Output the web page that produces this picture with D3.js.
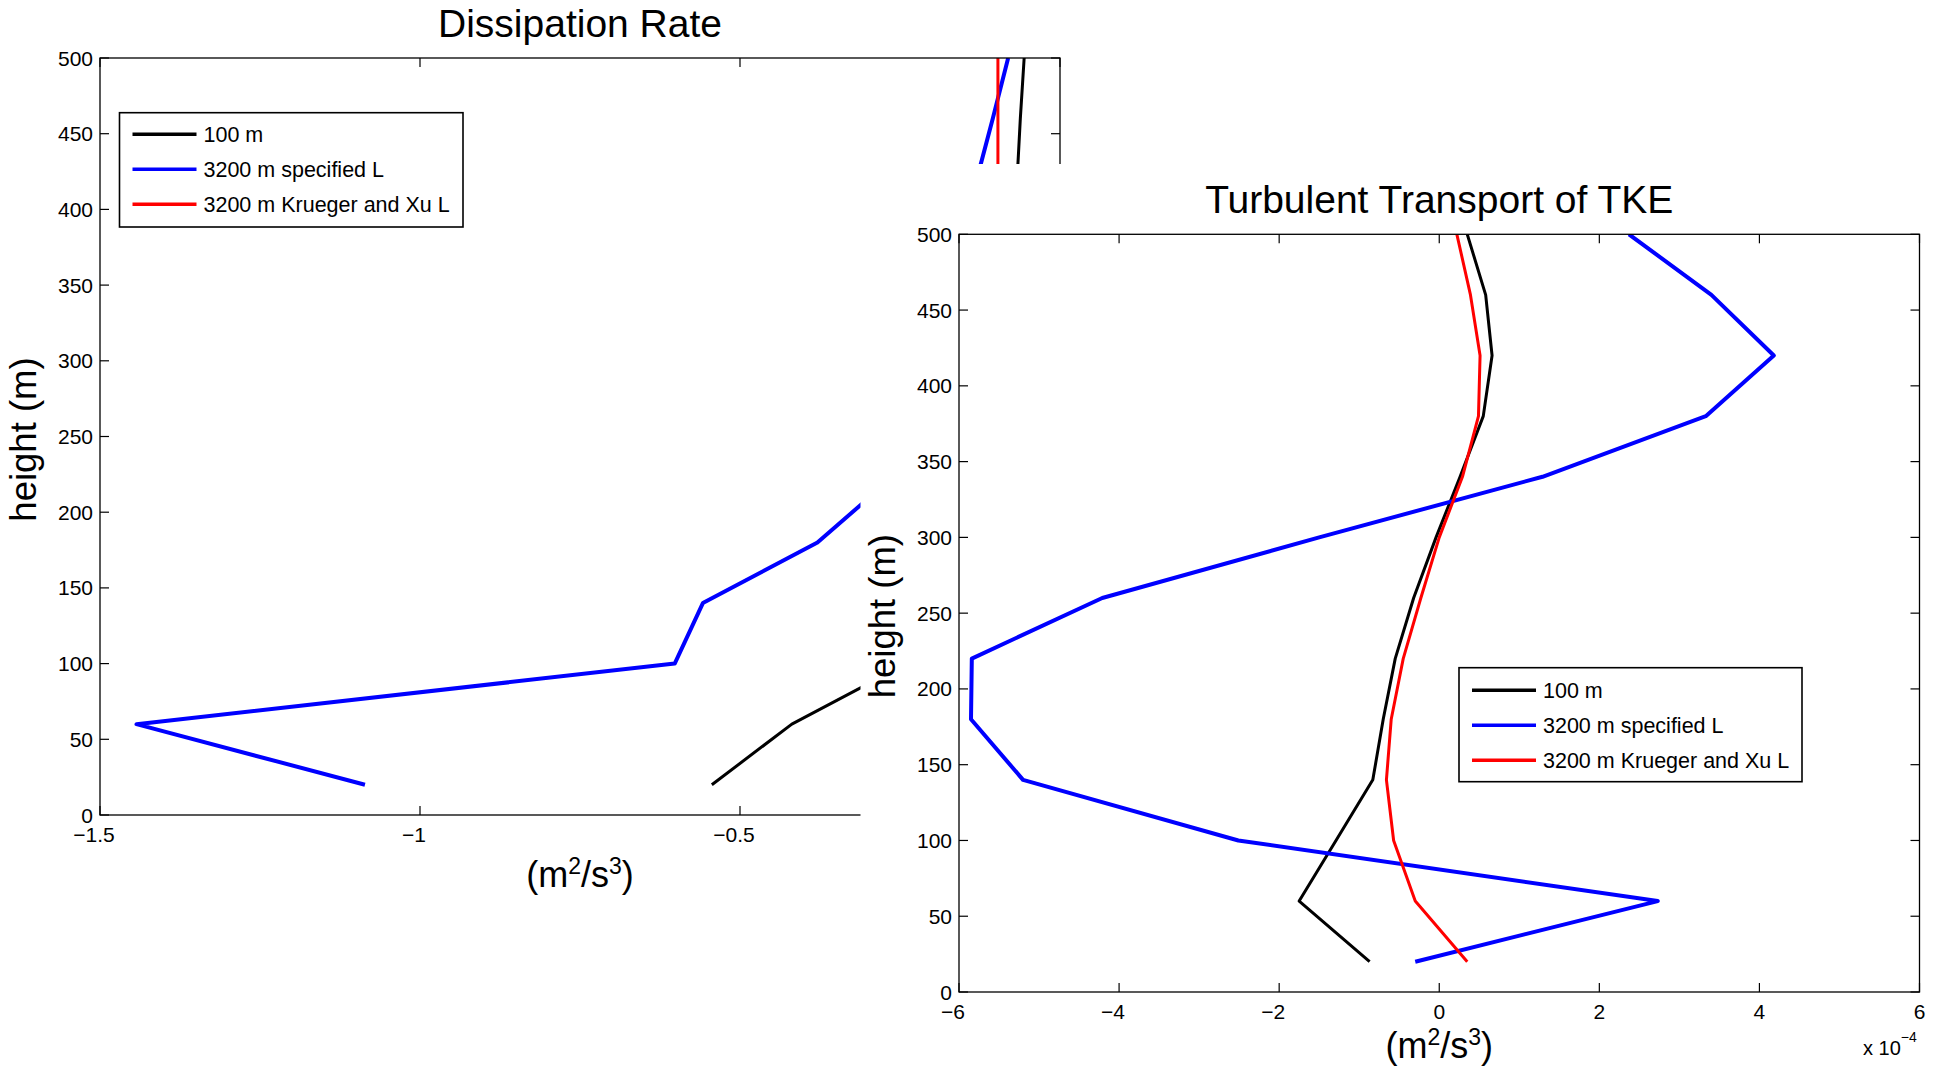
<!DOCTYPE html>
<html>
<head>
<meta charset="utf-8">
<script src="https://cdn.jsdelivr.net/npm/d3@7"></script>
<style>
  html, body { margin: 0; padding: 0; background: #fff; }
  svg { display: block; font-family: "Liberation Sans", Arial, Helvetica, sans-serif; }
</style>
</head>
<body>
<svg id="chart" width="1942" height="1073"></svg>
<script>
// ---------------- DATA ----------------
const heights = [20, 60, 100, 140, 180, 220, 260, 300, 340, 380, 420, 460, 500];

const seriesNames = ["100 m", "3200 m specified L", "3200 m Krueger and Xu L"];
const seriesColors = ["#000000", "#0000ff", "#ff0000"];

// Dissipation rate (m^2/s^3)
const dissip100m   = [-0.544, -0.419, -0.24, -0.16, -0.12, -0.10, -0.09, -0.08, -0.075, -0.07, -0.067, -0.062, -0.056];
const dissipSpecL  = [-1.086, -1.443, -0.602, -0.558, -0.379, -0.27, -0.20, -0.16, -0.14, -0.135, -0.13, -0.105, -0.081];
const dissipKXL    = [-0.25, -0.20, -0.16, -0.13, -0.12, -0.11, -0.105, -0.10, -0.10, -0.098, -0.097, -0.097, -0.097];

// Turbulent transport of TKE (m^2/s^3), in units of 1e-4
const ttke100m  = [-0.87, -1.75, -1.29, -0.83, -0.70, -0.55, -0.32, -0.04, 0.26, 0.55, 0.66, 0.58, 0.35];
const ttkeSpecL = [-0.30, 2.73, -2.51, -5.20, -5.85, -5.84, -4.21, -1.50, 1.29, 3.33, 4.18, 3.40, 2.37];
const ttkeKXL   = [0.35, -0.30, -0.57, -0.66, -0.60, -0.45, -0.23, 0.00, 0.29, 0.49, 0.51, 0.39, 0.22];

const dissipXTicks = [-1.5, -1, -0.5, 0];
const ttkeXTicks = [-6, -4, -2, 0, 2, 4, 6];
const yTicks = [0, 50, 100, 150, 200, 250, 300, 350, 400, 450, 500];

// ---------------- DRAW ----------------
const svg = d3.select("#chart");
const FONT_TICK = 21;
const TICK_LEN = 9;
const lineWidths = [3, 4, 3];

function fmt(v) {
  const s = String(Math.abs(v));
  return (v < 0 ? "\u2212" : "") + s;
}

function drawPanel(g, cfg) {
  const { x, y, xTicks, series, title, clipId } = cfg;
  const [x0, x1] = x.range();
  const [y0, y1] = y.range(); // y0 bottom, y1 top

  g.append("clipPath").attr("id", clipId)
    .append("rect").attr("x", x0).attr("y", y1).attr("width", x1 - x0).attr("height", y0 - y1);

  const line = d3.line().x(d => x(d[0])).y(d => y(d[1]));
  series.forEach((vals, i) => {
    g.append("path")
      .datum(vals.map((v, k) => [v, heights[k]]))
      .attr("d", line)
      .attr("clip-path", `url(#${clipId})`)
      .attr("fill", "none")
      .attr("stroke", seriesColors[i])
      .attr("stroke-width", lineWidths[i])
      .attr("stroke-linejoin", "round");
  });

  g.append("rect").attr("x", x0).attr("y", y1).attr("width", x1 - x0).attr("height", y0 - y1)
    .attr("fill", "none").attr("stroke", "#000").attr("stroke-width", 1.3);

  xTicks.forEach(t => {
    const px = x(t);
    g.append("line").attr("x1", px).attr("x2", px).attr("y1", y0).attr("y2", y0 - TICK_LEN)
      .attr("stroke", "#000").attr("stroke-width", 1.2);
    g.append("line").attr("x1", px).attr("x2", px).attr("y1", y1).attr("y2", y1 + TICK_LEN)
      .attr("stroke", "#000").attr("stroke-width", 1.2);
    g.append("text").attr("x", px).attr("y", y0 + 27)
      .attr("dx", t < 0 ? -6 : 0)
      .attr("text-anchor", "middle").attr("font-size", FONT_TICK).text(fmt(t));
  });
  yTicks.forEach(t => {
    const py = y(t);
    g.append("line").attr("x1", x0).attr("x2", x0 + TICK_LEN).attr("y1", py).attr("y2", py)
      .attr("stroke", "#000").attr("stroke-width", 1.2);
    g.append("line").attr("x1", x1).attr("x2", x1 - TICK_LEN).attr("y1", py).attr("y2", py)
      .attr("stroke", "#000").attr("stroke-width", 1.2);
    g.append("text").attr("x", x0 - 7).attr("y", py).attr("dy", "0.36em")
      .attr("text-anchor", "end").attr("font-size", FONT_TICK).text(t);
  });

  g.append("text").attr("x", (x0 + x1) / 2).attr("y", cfg.titleY)
    .attr("text-anchor", "middle").attr("font-size", 39).text(title);

  const cy = (y0 + y1) / 2 + 3;
  g.append("text")
    .attr("transform", `translate(${x0 - 64},${cy}) rotate(-90)`)
    .attr("text-anchor", "middle").attr("font-size", 36.5).text("height (m)");

  const xl = g.append("text").attr("x", (x0 + x1) / 2).attr("y", cfg.xLabelY)
    .attr("text-anchor", "middle").attr("font-size", 36);
  xl.append("tspan").text("(m");
  xl.append("tspan").attr("dy", -13).attr("font-size", 23).text("2");
  xl.append("tspan").attr("dy", 13).text("/s");
  xl.append("tspan").attr("dy", -13).attr("font-size", 23).text("3");
  xl.append("tspan").attr("dy", 13).text(")");

  const L = cfg.legend;
  g.append("rect").attr("x", L.x).attr("y", L.y).attr("width", L.w).attr("height", L.h)
    .attr("fill", "#fff").attr("stroke", "#000").attr("stroke-width", 1.6);
  seriesNames.forEach((name, i) => {
    const ry = L.y + L.firstRow + i * L.rowGap;
    g.append("line").attr("x1", L.x + 13).attr("x2", L.x + 77).attr("y1", ry).attr("y2", ry)
      .attr("stroke", seriesColors[i]).attr("stroke-width", 3.5);
    g.append("text").attr("x", L.x + 84).attr("y", ry + 7.5)
      .attr("font-size", 21.5).text(name);
  });
}

// Left figure: Dissipation Rate
const xL = d3.scaleLinear().domain([-1.5, 0]).range([100, 1060]);
const yL = d3.scaleLinear().domain([0, 500]).range([815, 58]);
drawPanel(svg.append("g"), {
  x: xL, y: yL, xTicks: dissipXTicks,
  series: [dissip100m, dissipSpecL, dissipKXL],
  title: "Dissipation Rate", titleY: 37, xLabelY: 887, clipId: "clipL",
  legend: { x: 119.5, y: 112.7, w: 343.5, h: 114.3, firstRow: 21.5, rowGap: 35 }
});

// Right figure overlays the left one (its own white background)
const gR = svg.append("g");
gR.append("rect").attr("x", 860.5).attr("y", 164).attr("width", 1942 - 860.5).attr("height", 1073 - 164)
  .attr("fill", "#fff");
const xR = d3.scaleLinear().domain([-6, 6]).range([959, 1919.5]);
const yR = d3.scaleLinear().domain([0, 500]).range([992, 234.3]);
drawPanel(gR, {
  x: xR, y: yR, xTicks: ttkeXTicks,
  series: [ttke100m, ttkeSpecL, ttkeKXL],
  title: "Turbulent Transport of TKE", titleY: 213, xLabelY: 1058, clipId: "clipR",
  legend: { x: 1459, y: 667.7, w: 343, h: 114, firstRow: 22.5, rowGap: 35 }
});
const ex = gR.append("text").attr("x", 1863).attr("y", 1055).attr("font-size", 20);
ex.append("tspan").text("x 10");
ex.append("tspan").attr("dy", -13).attr("font-size", 14).text("\u22124");
</script>
</body>
</html>
